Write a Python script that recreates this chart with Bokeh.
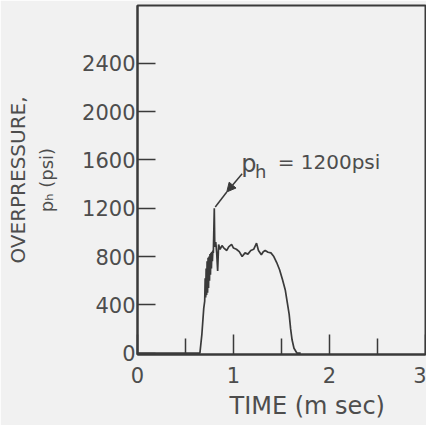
from bokeh.plotting import figure
from bokeh.models import LinearAxis, FixedTicker, Range1d, Label, Arrow, NormalHead, Title
from bokeh.embed import file_html
from bokeh.resources import INLINE

# ---- data ----
time_ms = [0.0, 0.65, 0.67, 0.69, 0.70, 0.705, 0.71, 0.715, 0.72, 0.725, 0.73, 0.735,
           0.74, 0.745, 0.75, 0.755, 0.76, 0.765, 0.77, 0.775, 0.78, 0.785, 0.79, 0.80,
           0.805, 0.815, 0.825, 0.835, 0.845, 0.86, 0.88, 0.90,
           0.93, 0.95, 0.98, 1.00, 1.03, 1.06, 1.09, 1.12, 1.15, 1.18, 1.21, 1.24, 1.26,
           1.29, 1.31, 1.33, 1.36, 1.39, 1.42, 1.45, 1.48, 1.51, 1.54, 1.56, 1.58, 1.595,
           1.61, 1.63, 1.66, 1.70]
pressure_psi = [0, 0, 150, 370, 430, 620, 460, 700, 480, 760, 500, 790,
                540, 800, 600, 820, 650, 830, 700, 840, 760, 850, 830, 1200,
                880, 920, 830, 680, 900, 860, 890, 870,
                850, 880, 900, 870, 860, 840, 800, 830, 820, 850, 860, 910, 850,
                815, 840, 850, 835, 830, 800, 750, 690, 610, 520, 420, 320, 200,
                110, 40, 0, 0]

x_ticks = [0, 1, 2, 3]
x_minor_ticks = [0.5, 1.5, 2.5]
y_ticks = [0, 400, 800, 1200, 1600, 2000, 2400]

peak_time = 0.80
peak_value = 1200

BG = "#f1f1f1"
INK = "#3a3a3a"
TXT = "#4d4d4d"
FONT = "DejaVu Sans"

p = figure(width=426, height=425, output_backend="svg", toolbar_location=None,
           x_range=Range1d(0, 3), y_range=Range1d(-12, 2880),
           min_border_left=137, min_border_right=1, min_border_top=5, min_border_bottom=71)
p.background_fill_color = BG
p.border_fill_color = BG
p.outline_line_color = INK
p.outline_line_width = 2
p.grid.visible = False

p.line(time_ms, pressure_psi, line_color=INK, line_width=1.7)

# x axis
xa = p.xaxis[0]
xa.ticker = FixedTicker(ticks=x_ticks, minor_ticks=x_minor_ticks)
xa.axis_line_color = INK
xa.axis_line_width = 2
xa.major_tick_in = 20
xa.major_tick_out = 0
xa.minor_tick_in = 16
xa.minor_tick_out = 0
xa.major_tick_line_color = INK
xa.minor_tick_line_color = INK
xa.major_tick_line_width = 1.5
xa.minor_tick_line_width = 1.5
xa.major_label_text_font = FONT
xa.major_label_text_font_size = "21px"
xa.major_label_text_color = TXT
xa.major_label_standoff = 12

# y axis (inner)
ya = p.yaxis[0]
ya.ticker = FixedTicker(ticks=y_ticks, minor_ticks=[])
ya.axis_line_color = INK
ya.axis_line_width = 2
ya.major_tick_in = 18
ya.major_tick_out = 0
ya.major_tick_line_color = INK
ya.major_tick_line_width = 1.5
ya.major_label_text_font = FONT
ya.major_label_text_font_size = "21px"
ya.major_label_text_color = TXT
ya.major_label_standoff = 2
ya.axis_label = "p\u2095 (psi)"
ya.axis_label_text_font = FONT
ya.axis_label_text_font_size = "18px"
ya.axis_label_text_font_style = "normal"
ya.axis_label_text_color = TXT
ya.axis_label_standoff = 22

# outer y axis title only
outer = LinearAxis(ticker=FixedTicker(ticks=[]), axis_line_color=None,
                   major_tick_line_color=None, minor_tick_line_color=None,
                   axis_label="OVERPRESSURE,", axis_label_text_font=FONT,
                   axis_label_text_font_size="20px", axis_label_text_font_style="normal",
                   axis_label_text_color=TXT, axis_label_standoff=4)
p.add_layout(outer, "left")

# x axis title (shifted right as in the reference)
p.add_layout(Title(text="TIME (m sec)", align="left", offset=92, standoff=8,
                   text_font=FONT, text_font_size="24px", text_font_style="normal",
                   text_color=TXT), "below")

# annotation of peak
p.add_layout(Arrow(x_start=1.09, y_start=1485, x_end=0.93, y_end=1335,
                   line_color=INK, line_width=1.5,
                   end=NormalHead(size=9, fill_color=INK, line_color=INK)))
p.segment(x0=[0.93], y0=[1335], x1=[peak_time + 0.01], y1=[peak_value + 10],
          line_color=INK, line_width=1.5)
p.add_layout(Label(x=1.08, y=1570, text="p", text_font=FONT, text_font_size="24px",
                   text_color=TXT, text_baseline="alphabetic"))
p.add_layout(Label(x=1.225, y=1505, text="h", text_font=FONT, text_font_size="18px",
                   text_color=TXT, text_baseline="alphabetic"))
p.add_layout(Label(x=1.46, y=1585, text="= 1200psi", text_font=FONT, text_font_size="20px",
                   text_color=TXT, text_baseline="alphabetic"))

open("out.html", "w").write(file_html(p, INLINE))
